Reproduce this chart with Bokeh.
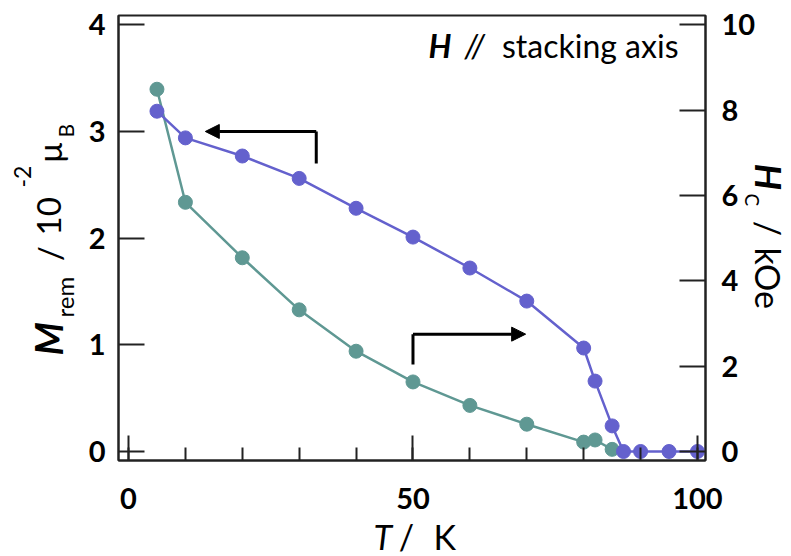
from bokeh.plotting import figure
from bokeh.layouts import column
from bokeh.models import (Range1d, LinearAxis, FixedTicker, Label, Arrow, NormalHead)
from bokeh.embed import file_html
from bokeh.resources import INLINE

# ---- data ----
T_m = [5, 10, 20, 30, 40, 50, 60, 70, 80, 82, 85, 87, 90, 95, 100]
M_rem = [3.19, 2.94, 2.77, 2.56, 2.28, 2.01, 1.72, 1.41, 0.97, 0.66, 0.24, 0.0, 0.0, 0.0, 0.0]
T_h = [5, 10, 20, 30, 40, 50, 60, 70, 80, 82, 85]
H_c = [8.49, 5.84, 4.54, 3.32, 2.35, 1.63, 1.08, 0.64, 0.22, 0.27, 0.05]

x_ticks = [0, 50, 100]
x_minor = [0, 10, 20, 30, 40, 50, 60, 70, 80, 90, 100]
left_ticks = [0, 1, 2, 3, 4]
right_ticks = [0, 2, 4, 6, 8, 10]

# arrows (T, M_rem coordinates)
arrowL_T = [33.0, 33.0, 13.5]
arrowL_M = [2.70, 3.0, 3.0]
arrowR_T = [50.0, 50.0, 69.8]
arrowR_M = [0.815, 1.10, 1.10]

BLUE = "#6461cd"
TEAL = "#5f9893"
AX = "#222222"
FONT = "Lato"

W, H = 791, 556
FL, FR, FT, FB = 118, 705, 15, 460
X0, X1 = -1.757, 101.41
Y0, Y1 = -0.0844, 4.0872

p = figure(width=W, height=H, output_backend="svg", toolbar_location=None,
           x_range=Range1d(X0, X1), y_range=Range1d(Y0, Y1),
           min_border_left=FL, min_border_right=W - FR,
           min_border_top=FT, min_border_bottom=H - FB,
           x_axis_location=None, y_axis_location=None)
p.extra_y_ranges = {"right": Range1d(Y0 * 2.5, Y1 * 2.5)}
p.xgrid.visible = False
p.ygrid.visible = False
p.outline_line_color = AX
p.outline_line_width = 2
p.background_fill_color = "white"
p.border_fill_color = "white"


def style(ax):
    ax.axis_line_color = AX
    ax.axis_line_width = 2
    ax.major_tick_line_color = AX
    ax.major_tick_line_width = 2
    ax.minor_tick_line_color = AX
    ax.minor_tick_line_width = 2
    ax.major_tick_out = 0
    ax.minor_tick_out = 0
    ax.major_label_text_font = FONT
    ax.major_label_text_font_style = "bold"
    ax.major_label_text_font_size = "29px"
    ax.major_label_text_color = "black"


xa = LinearAxis(ticker=FixedTicker(ticks=x_ticks, minor_ticks=x_minor))
style(xa)
xa.major_tick_in = 25
xa.minor_tick_in = 13
xa.major_label_standoff = 27
p.add_layout(xa, "below")

ya = LinearAxis(ticker=FixedTicker(ticks=left_ticks, minor_ticks=[]))
style(ya)
ya.major_tick_in = 26
ya.major_label_standoff = 13
p.add_layout(ya, "left")

yr = LinearAxis(y_range_name="right", ticker=FixedTicker(ticks=right_ticks, minor_ticks=[]))
style(yr)
yr.major_tick_in = 26
yr.major_label_standoff = 16
p.add_layout(yr, "right")

# data series
p.line(T_h, H_c, y_range_name="right", line_color=TEAL, line_width=2.5)
p.scatter(T_h, H_c, y_range_name="right", size=14, fill_color=TEAL, line_color=TEAL)
p.line(T_m, M_rem, line_color=BLUE, line_width=2.5)
p.scatter(T_m, M_rem, size=14, fill_color=BLUE, line_color=BLUE)

# arrows
for ts, ms in ((arrowL_T, arrowL_M), (arrowR_T, arrowR_M)):
    p.line(ts[:2], ms[:2], line_color="black", line_width=3)
    p.add_layout(Arrow(x_start=ts[1], y_start=ms[1], x_end=ts[2], y_end=ms[2],
                       line_color="black", line_width=3,
                       end=NormalHead(size=14, fill_color="black", line_color="black", line_width=1)))

# transparent overlay figure (pixel coordinates) for the axis titles
q = figure(width=W, height=H, output_backend="svg", toolbar_location=None,
           x_range=Range1d(0, W), y_range=Range1d(H, 0),
           min_border_left=0, min_border_right=0, min_border_top=0, min_border_bottom=0,
           x_axis_location=None, y_axis_location=None)
q.xgrid.visible = False
q.ygrid.visible = False
q.outline_line_color = None
q.background_fill_alpha = 0
q.border_fill_alpha = 0
q.margin = (-H, 0, 0, 0)
for fig in (p, q):
    try:
        fig.frame_align = False
    except Exception:
        pass

K_OFF = 0.39  # shift of the rendered alphabetic baseline, in em


def lab(text, px, py, size, style="normal", rot=0, align="left"):
    off = K_OFF * size
    if rot == 0:
        py = py - off
    elif rot > 0:
        px = px - off
    else:
        px = px + off
    q.add_layout(Label(x=px, y=py, text=text, angle=rot * 1.5707963,
                       text_font=FONT, text_font_size=f"{size}px", text_font_style=style,
                       text_align=align, text_baseline="alphabetic", text_color="black"))


# annotation in plot
lab("H", 428, 57, 32, "bold italic")
lab("//", 464, 57, 32, "italic")
lab("stacking axis", 678, 57, 32, "normal", align="right")

# x axis title
lab("T", 373, 549, 34, "italic")
lab("/", 406, 549, 34, "normal", align="center")
lab("K", 433, 549, 34, "normal")

# left axis title (reading upward)
lab("M", 62, 355, 38, "bold italic", rot=1)
lab("rem", 73, 317, 24, "normal", rot=1)
lab("/", 61, 253, 33, "normal", rot=1, align="center")
lab("10", 61, 235, 33, "normal", rot=1)
lab("-2", 31, 187, 23, "normal", rot=1)
lab("\u03bc", 61, 162, 33, "normal", rot=1)
lab("B", 73, 137, 21, "normal", rot=1)

# right axis title (reading downward)
lab("H", 755, 163, 37, "bold italic", rot=-1)
lab("C", 745, 193, 19, "normal", rot=-1)
lab("/", 755, 228, 34, "normal", rot=-1, align="center")
lab("kOe", 755, 247, 34, "normal", rot=-1)

layout = column(p, q, spacing=0)
open("out.html", "w").write(file_html(layout, INLINE))
